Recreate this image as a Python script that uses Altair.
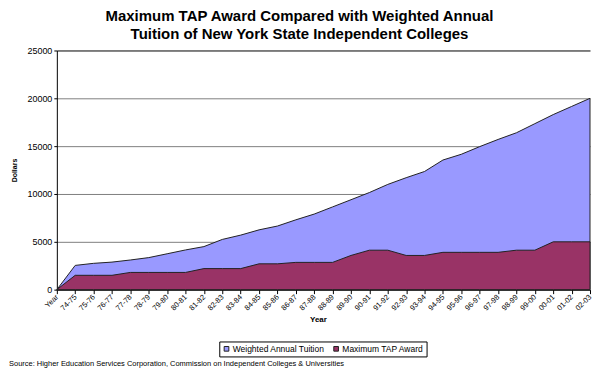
import altair as alt
import pandas as pd

years = ["Year", "74-75", "75-76", "76-77", "77-78", "78-79", "79-80", "80-81", "81-82",
         "82-83", "83-84", "84-85", "85-86", "86-87", "87-88", "88-89", "89-90", "90-91",
         "91-92", "92-93", "93-94", "94-95", "95-96", "96-97", "97-98", "98-99", "99-00",
         "00-01", "01-02", "02-03"]
tuition = [0, 2535, 2750, 2880, 3100, 3350, 3750, 4150, 4500, 5250, 5700, 6250, 6650,
           7300, 7900, 8650, 9400, 10150, 11000, 11700, 12350, 13550, 14150, 14950, 15700,
           16400, 17350, 18300, 19150, 20000]
tap = [0, 1500, 1500, 1500, 1800, 1800, 1800, 1800, 2200, 2200, 2200, 2700, 2700, 2850,
       2850, 2850, 3575, 4125, 4125, 3575, 3575, 3900, 3900, 3900, 3900, 4125, 4125, 5000,
       5000, 5000]
series = ["Weighted Annual Tuition", "Maximum TAP Award"]
colors = ["#9999FF", "#993366"]
title_lines = ["Maximum TAP Award Compared with Weighted Annual",
               "Tuition of New York State Independent Colleges"]
source_text = ["Source: Higher Education Services Corporation, Commission on Independent Colleges & Universities"]

rows = []
for yr, v in zip(years, tuition):
    rows.append({"Year": yr, "Dollars": v, "Series": series[0]})
for yr, v in zip(years, tap):
    rows.append({"Year": yr, "Dollars": v, "Series": series[1]})
df = pd.DataFrame(rows)

FONT = "Liberation Sans"

x_axis = alt.Axis(title="Year", labelAngle=-45, labelAlign="right", labelBaseline="middle",
                  labelFontSize=7.5, labelPadding=2, tickSize=4, tickColor="black",
                  domainColor="black", titleFontSize=8, titleFontWeight="bold",
                  titlePadding=4, titleX=262, grid=False, labelColor="black",
                  labelOverlap=False)
y_axis = alt.Axis(title="Dollars", values=[0, 5000, 10000, 15000, 20000, 25000], format="d",
                  labelFontSize=9, labelPadding=2, tickSize=3, tickColor="black",
                  domainColor="black", titleFontSize=7, titleFontWeight="bold",
                  titlePadding=9, grid=True,
                  gridColor={"condition": {"test": "datum.value == 25000", "value": "black"},
                             "value": "#808080"},
                  gridWidth=1, labelColor="black")

x = alt.X("Year:N", sort=years, scale=alt.Scale(type="point", padding=0), axis=x_axis)
y = alt.Y("Dollars:Q", stack=None, scale=alt.Scale(domain=[0, 25000], nice=False), axis=y_axis)
color = alt.Color("Series:N",
                  scale=alt.Scale(domain=series, range=colors),
                  legend=alt.Legend(title=None, orient="none", legendX=163, legendY=292,
                                    direction="horizontal", symbolType="square",
                                    symbolSize=22, symbolStrokeColor="#222",
                                    symbolStrokeWidth=1, labelFontSize=8.5, padding=3,
                                    strokeColor="black", fillColor="white",
                                    columnPadding=6, labelOffset=2))

area_t = alt.Chart(df).transform_filter(alt.datum.Series == series[0]).mark_area(
    stroke="#222", strokeWidth=1, opacity=1
).encode(x=x, y=y, color=color)
area_m = alt.Chart(df).transform_filter(alt.datum.Series == series[1]).mark_area(
    stroke="#222", strokeWidth=1, opacity=1
).encode(x=x, y=y, color=color)

src = alt.Chart(pd.DataFrame({"t": source_text})).mark_text(
    align="left", baseline="middle", fontSize=7.5, font=FONT, color="black"
).encode(x=alt.value(-48), y=alt.value(315), text="t:N")

chart = alt.layer(area_t, area_m, src).properties(
    width=535, height=240,
    autosize=alt.AutoSizeParams(type="none"),
    padding={"left": 49, "top": 42, "right": 2, "bottom": 79},
    title=alt.TitleParams(text=title_lines, fontSize=15, fontWeight="bold", font=FONT,
                          anchor="middle", dx=-24, offset=4, lineHeight=18.5, color="black"),
).configure(font=FONT).configure_view(stroke=None).configure_axis(labelFont=FONT, titleFont=FONT)

chart.save("out.html", embed_options={"renderer": "svg", "actions": False})
